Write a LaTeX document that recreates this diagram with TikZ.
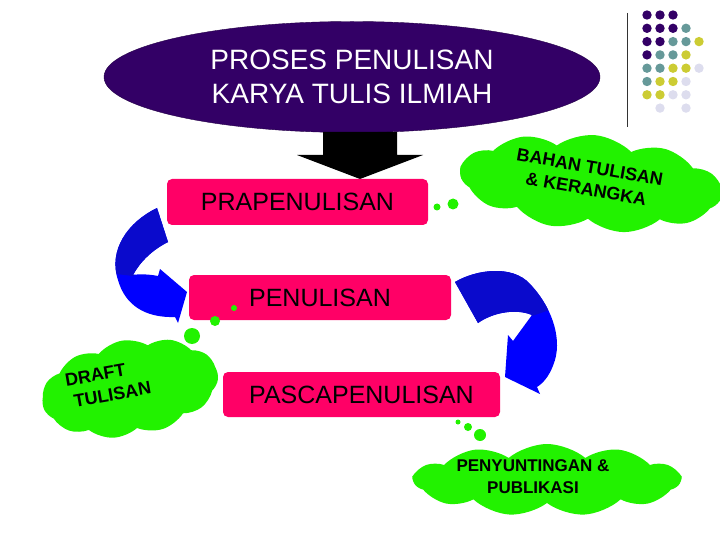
\documentclass[tikz,border=0pt]{standalone}
\usepackage{fontspec}
\setmainfont{Liberation Sans}
\usetikzlibrary{shapes.geometric,shapes.symbols}

\definecolor{titlepurple}{HTML}{330066}
\definecolor{stagepink}{HTML}{FF0066}
\definecolor{cloudgreen}{HTML}{22F200}
\definecolor{turnblue}{HTML}{0000FF}
\definecolor{turndark}{HTML}{0A0ACC}
\definecolor{dotP}{HTML}{330066}
\definecolor{dotT}{HTML}{669999}
\definecolor{dotY}{HTML}{CCCC33}
\definecolor{dotL}{HTML}{DDDDEE}

\newcommand{\leftturn}[1]
{   \fill[#1] (157,208) .. controls (128,222) and (108,250) .. (118,280) .. controls (125,305) and (145,318) .. (175,317) -- (178,323) -- (187,292) -- (160,269) -- (158,276) .. controls (148,274) and (138,274) .. (133,275) .. controls (140,262) and (152,250) .. (168,242) -- cycle;
}
\newcommand{\rightturn}[1]
{   \fill[#1] (455,282) .. controls (475,270) and (512,264) .. (530,284) .. controls (550,305) and (562,335) .. (555,360) .. controls (551,373) and (545,382) .. (537,387) -- (540,394) -- (505,377) -- (508,335) -- (513,341) -- (532,315) .. controls (515,308) and (492,313) .. (478,323) -- cycle;
}

\tikzset{
  stagebox/.style={fill=stagepink, rounded corners=5pt, inner sep=0pt,
    font=\fontsize{25}{30}\selectfont},
  thought/.style={cloud, cloud puffs=11, cloud puff arc=80, cloud ignores aspect,
    fill=cloudgreen, inner sep=0pt},
  thoughttext/.style={font=\bfseries\fontsize{18}{22}\selectfont, align=center},
}

\begin{document}
\begin{tikzpicture}[x=1pt,y=-1pt]
 \useasboundingbox (0,0) rectangle (720,540);

 % title
 \node[ellipse, fill=titlepurple, draw=titlepurple!70!black, inner sep=0pt,
   minimum width=496pt, minimum height=111pt, text=white, align=center,
   font=\fontsize{28}{34}\selectfont] (title) at (352,77)
   {PROSES PENULISAN\\KARYA TULIS ILMIAH};
 \fill (323,132) -- (397,132) -- (397,155) -- (423,155) -- (360,179) -- (297,155) -- (323,155) -- cycle;

 % stages
 \node[stagebox, minimum width=261pt, minimum height=46pt] (prapen) at (297.5,202) {PRAPENULISAN};
 \node[stagebox, minimum width=262pt, minimum height=45pt] (pen) at (320,297.5) {PENULISAN};
 \node[stagebox, minimum width=277pt, minimum height=45pt] (pascapen) at (361.5,394.5) {PASCAPENULISAN};

 % curved arrows
 \leftturn{turnblue}
 \begin{scope}
   \clip (100,195) -- (180,195) -- (180,245) -- (133,276) -- (100,272) -- cycle;
   \leftturn{turndark}
 \end{scope}
 \rightturn{turnblue}
 \begin{scope}
   \clip (440,250) -- (570,250) -- (570,303) -- (532,316) -- (470,330) -- (440,330) -- cycle;
   \rightturn{turndark}
 \end{scope}

 % clouds
 \node[thought, rotate=-5, minimum width=262pt, minimum height=96pt] (bahancloud) at (591,183) {};
 \node[thoughttext, rotate=-10] (bahan) at (588,178) {BAHAN TULISAN\\\& KERANGKA};
 \fill[cloudgreen] (437,207) circle (3.5pt) (453,204) circle (5.5pt);

 \node[thought, rotate=10, minimum width=178pt, minimum height=96pt] (draftcloud) at (130,388) {};
 \node[thoughttext, rotate=10, align=left] (draft) at (108,384) {DRAFT\\\hspace*{5pt}TULISAN};
 \fill[cloudgreen] (234,308) circle (3pt) (215,321) circle (5pt) (192,336) circle (8pt);

 \node[thought, minimum width=266pt, minimum height=72pt] (publikasicloud) at (547,480) {};
 \node[thoughttext, font=\bfseries\fontsize{17}{22}\selectfont] (publikasi) at (533,477) {PENYUNTINGAN \&\\PUBLIKASI};
 \fill[cloudgreen] (458,422) circle (2.5pt) (468,427) circle (4pt) (480,435) circle (6pt);

 % corner dots
 \draw[line width=1pt, black!80] (627,13) -- (627,127);
 \foreach \c/\r/\col in {0/0/dotP,1/0/dotP,2/0/dotP,
   0/1/dotP,1/1/dotP,2/1/dotP,3/1/dotT,
   0/2/dotP,1/2/dotP,2/2/dotT,3/2/dotT,4/2/dotY,
   0/3/dotP,1/3/dotT,2/3/dotT,3/3/dotY,
   0/4/dotT,1/4/dotT,2/4/dotY,3/4/dotY,4/4/dotL,
   0/5/dotT,1/5/dotY,2/5/dotY,3/5/dotL,
   0/6/dotY,1/6/dotY,2/6/dotL,3/6/dotL,
   1/7/dotL,3/7/dotL}
   \fill[\col] (647+13*\c,15+13.3*\r) circle (4.7pt);

\end{tikzpicture}
\end{document}
